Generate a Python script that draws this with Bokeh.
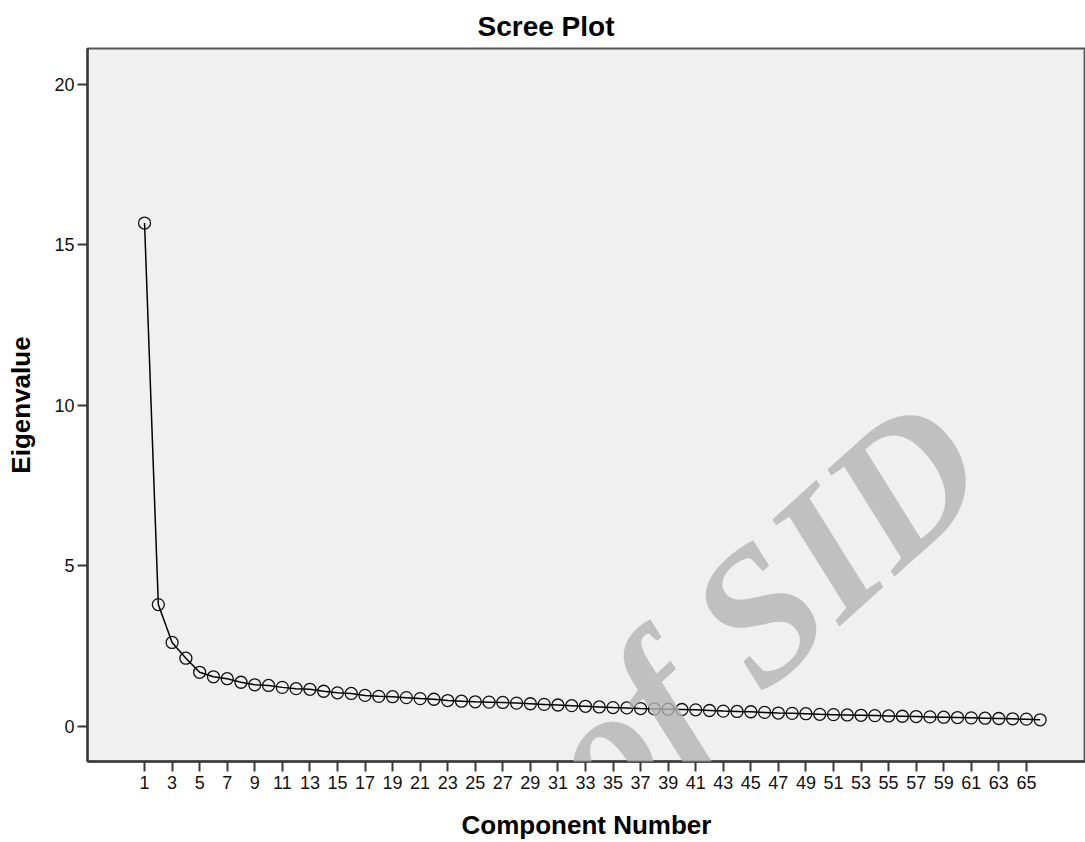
from bokeh.plotting import figure
from bokeh.models import Range1d, FixedTicker, Label
from bokeh.embed import file_html
from bokeh.resources import INLINE

components = list(range(1, 67))
eigenvalues = [15.68, 3.79, 2.61, 2.12, 1.68, 1.54, 1.48, 1.37, 1.29, 1.27,
               1.21, 1.17, 1.15, 1.09, 1.04, 1.02, 0.96, 0.93, 0.92, 0.89,
               0.86, 0.84, 0.80, 0.78, 0.76, 0.75, 0.74, 0.72, 0.70, 0.68,
               0.66, 0.64, 0.62, 0.60, 0.58, 0.57, 0.55, 0.54, 0.53, 0.52,
               0.51, 0.49, 0.47, 0.46, 0.45, 0.43, 0.41, 0.40, 0.39, 0.37,
               0.36, 0.35, 0.34, 0.33, 0.32, 0.31, 0.30, 0.29, 0.28, 0.27,
               0.26, 0.25, 0.24, 0.23, 0.22, 0.20]
x_ticks = list(range(1, 66, 2))
y_ticks = [0, 5, 10, 15, 20]

FONT = "Liberation Sans"

p = figure(width=1085, height=842, output_backend="svg", toolbar_location=None,
           x_range=Range1d(-3.14, 69.29), y_range=Range1d(-1.10, 21.12),
           min_border_left=87, min_border_right=0, min_border_top=48,
           min_border_bottom=80, title="Scree Plot")

p.background_fill_color = "#f0f0f0"
p.border_fill_color = "white"
p.outline_line_color = "#555555"
p.outline_line_width = 1.8
p.xgrid.visible = False
p.ygrid.visible = False

p.title.text_font = FONT
p.title.text_font_size = "28px"
p.title.text_font_style = "bold"
p.title.text_color = "black"
p.title.align = "left"
p.title.offset = 390
p.title.standoff = 14

for ax in (p.xaxis[0], p.yaxis[0]):
    ax.axis_line_color = "#3a3a3a"
    ax.axis_line_width = 2.5
    ax.major_tick_line_color = "#3a3a3a"
    ax.major_tick_line_width = 2
    ax.major_tick_out = 10
    ax.major_tick_in = 0
    ax.minor_tick_line_color = None
    ax.major_label_text_font = FONT
    ax.major_label_text_font_size = "18px"
    ax.major_label_text_color = "#111111"
    ax.axis_label_text_font = FONT
    ax.axis_label_text_font_size = "26px"
    ax.axis_label_text_font_style = "bold"
    ax.axis_label_text_color = "black"

p.xaxis.ticker = FixedTicker(ticks=x_ticks)
p.yaxis.ticker = FixedTicker(ticks=y_ticks)
p.xaxis.axis_label = "Component Number"
p.yaxis.axis_label = "Eigenvalue"
p.xaxis.major_label_standoff = 4
p.yaxis.major_label_standoff = 3
p.xaxis.axis_label_standoff = 18
p.yaxis.axis_label_standoff = 15

p.line(components, eigenvalues, line_color="black", line_width=1.5)
p.scatter(components, eigenvalues, marker="circle", size=12,
          fill_color=None, line_color="#111111", line_width=1.3)

wm = Label(x=59.8, y=9.03, text="Archive of SID", angle=42, angle_units="deg",
           text_align="right", text_baseline="alphabetic",
           text_font="Liberation Serif", text_font_style="bold italic",
           text_font_size="190px", text_color="#b4b4b4", text_alpha=0.8,
           level="overlay")
p.add_layout(wm)

open("out.html", "w").write(file_html(p, INLINE))
